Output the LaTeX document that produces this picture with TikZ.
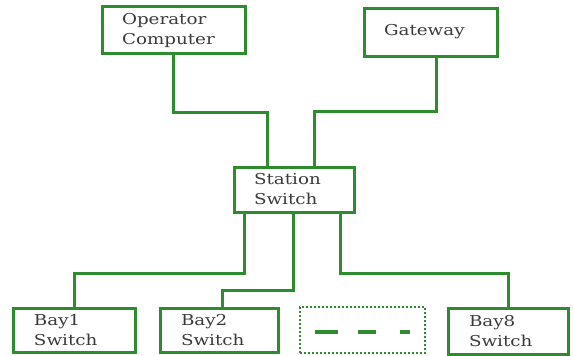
\documentclass[tikz,border=0pt]{standalone}
\usepackage{fontspec}
\setmainfont{DejaVu Serif}[FakeStretch=1.22]
\usepackage{tikz}
\usetikzlibrary{positioning, calc}
\usepackage{xcolor}
\definecolor{wire}{HTML}{2E8B2E}
\definecolor{label}{HTML}{3A3A3A}
\tikzset{
    device/.style={
        rectangle, draw=wire, line width=3pt, fill=white,
        text width=#1, align=left, inner sep=0pt,
        font=\fontsize{15}{20}\selectfont, text=label
    },
    device/.default=2cm,
    spare/.style={
        rectangle, draw=wire, line width=2.8pt, dash pattern=on 2pt off 2pt, fill=white
    },
    link/.style={
        draw=wire, line width=3pt
    }
}

\begin{document}
\begin{tikzpicture}[x=1pt, y=-1pt]

    \useasboundingbox (0,0) rectangle (574,356);

    \node[device=103pt, minimum width=143pt, minimum height=47pt] (opc)     at (173.5,30) {Operator\\Computer};
    \node[device=93pt,  minimum width=133pt, minimum height=48pt] (gateway) at (430.5,32)   {Gateway\\[4pt]};
    \node[device=80pt,  minimum width=120pt, minimum height=45pt] (station) at (294,189.5)  {Station\\Switch};
    \node[device=80pt,  minimum width=122pt, minimum height=44pt] (bayone)  at (74,330)     {Bay1\\Switch};
    \node[device=76pt,  minimum width=118pt, minimum height=44pt] (baytwo)  at (219,330)    {Bay2\\Switch};
    \node[spare, minimum width=125pt, minimum height=46pt]        (more)    at (362.5,330)  {};
    \node[device=78pt,  minimum width=120pt, minimum height=46pt] (bayeight) at (508,331)   {Bay8\\Switch};

    % uplinks
    \draw[link] (opc.south) -- ++(0,57) -| ($(station.north)+(-27,0)$);
    \draw[link] ($(gateway.south)+(6,0)$) -- ++(0,54) -| ($(station.north)+(20,0)$);

    % bay links
    \draw[link] ($(station.south)+(-50,0)$) -- ++(0,60) -| (bayone.north);
    \draw[link] ($(station.south)+(-1,0)$)  -- ++(0,77) -| ($(baytwo.north)+(3,0)$);
    \draw[link] ($(station.south)+(46,0)$)  -- ++(0,60) -| (bayeight.north);

    % placeholder dashes
    \draw[link, line width=4pt] (315,332) -- (338,332) (358,332) -- (376,332) (400,332) -- (410,332);

\end{tikzpicture}
\end{document}
